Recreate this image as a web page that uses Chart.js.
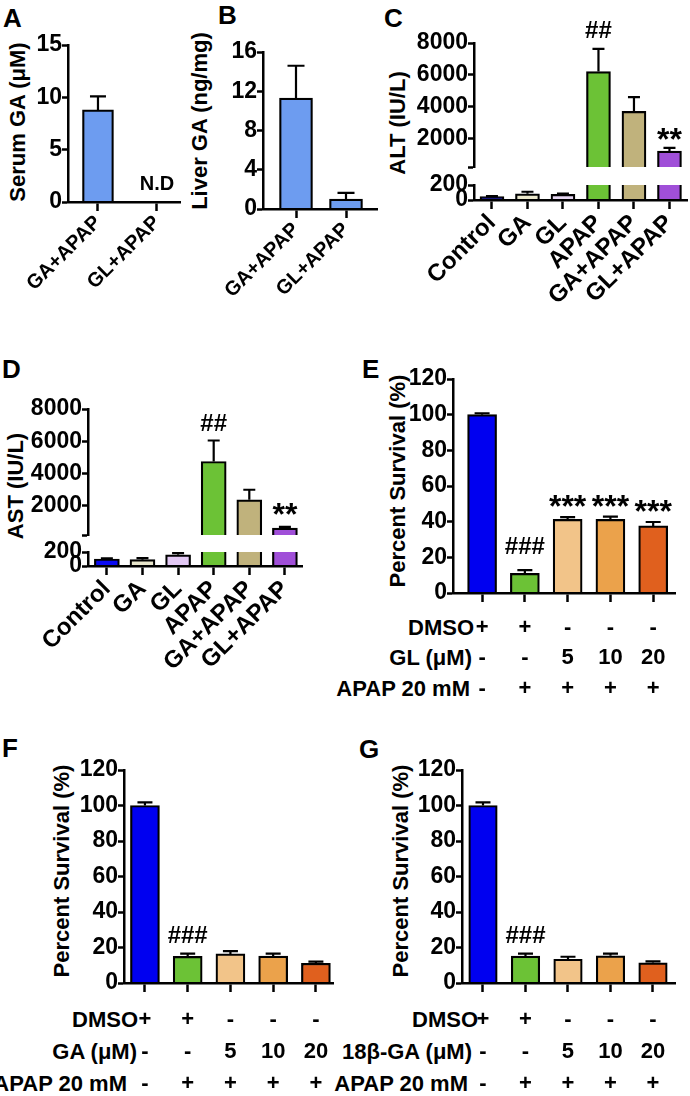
<!DOCTYPE html>
<html><head><meta charset="utf-8">
<script src="https://cdn.jsdelivr.net/npm/chart.js@4/dist/chart.umd.min.js"></script>
<style>
body{margin:0;background:#fff;}
#fig{position:relative;width:690px;height:1096px;overflow:hidden;font-family:"Liberation Sans",Arial,Helvetica,sans-serif;font-weight:bold;color:#000;background:#fff}
#fig canvas{position:absolute}
.lab{position:absolute;font-size:26px;line-height:26px;font-weight:bold}
.yt{position:absolute;white-space:nowrap;font-size:22px;line-height:22px;font-weight:bold;transform:translate(-50%,-50%) rotate(-90deg)}
.rh{position:absolute;white-space:nowrap;font-size:22px;line-height:22px;font-weight:bold;transform:translate(-100%,-50%)}
</style></head>
<body>
<div id="fig">
  <div class="lab" style="left:3px;top:5px">A</div>
  <div class="lab" style="left:218px;top:2px">B</div>
  <div class="lab" style="left:384px;top:5px">C</div>
  <div class="lab" style="left:2px;top:356px">D</div>
  <div class="lab" style="left:362px;top:356px">E</div>
  <div class="lab" style="left:2px;top:735px">F</div>
  <div class="lab" style="left:359px;top:736px">G</div>

  <div class="yt" style="left:18px;top:122px">Serum GA (μM)</div>
  <div class="yt" style="left:200px;top:121px">Liver GA (ng/mg)</div>
  <div class="yt" style="left:398px;top:123px">ALT (IU/L)</div>
  <div class="yt" style="left:16px;top:486px">AST (IU/L)</div>
  <div class="yt" style="left:398px;top:481px">Percent Survival (%)</div>
  <div class="yt" style="left:62px;top:871px">Percent Survival (%)</div>
  <div class="yt" style="left:401px;top:871px">Percent Survival (%)</div>

  <div class="rh" style="left:474px;top:628px">DMSO</div>
  <div class="rh" style="left:472px;top:658px">GL (μM)</div>
  <div class="rh" style="left:470px;top:689px">APAP 20 mM</div>
  <div class="rh" style="left:138px;top:1020px">DMSO</div>
  <div class="rh" style="left:137px;top:1052px">GA (μM)</div>
  <div class="rh" style="left:127px;top:1084px">APAP 20 mM</div>
  <div class="rh" style="left:478px;top:1020px">DMSO</div>
  <div class="rh" style="left:472px;top:1052px">18β-GA (μM)</div>
  <div class="rh" style="left:468px;top:1084px">APAP 20 mM</div>
</div>
<script>
// ---------------- DATA ----------------
const abCategories = ['GA+APAP', 'GL+APAP'];
const serumGA = [8.8, 0];
const serumGAsem = [1.3, 0];
const serumGAmarks = ['', 'N.D'];
const serumTicks = [0, 5, 10, 15];

const liverGA = [11.3, 1.0];
const liverGAsem = [3.3, 0.65];
const liverTicks = [0, 4, 8, 12, 16];

const enzymeCategories = ['Control', 'GA', 'GL', 'APAP', 'GA+APAP', 'GL+APAP'];
const altValues = [45, 83, 74, 6200, 3700, 1200];
const altSem = [8, 27, 11, 1425, 900, 200];
const altMarks = ['', '', '', '##', '', '**'];
const astValues = [100, 90, 160, 4750, 2375, 625];
const astSem = [8, 22, 25, 1300, 625, 80];
const astMarks = ['', '', '', '##', '', '**'];
const enzymeHighTicks = [200, 2000, 4000, 6000, 8000];
const enzymeLowTicks = [0, 200];

const survivalTicks = [0, 20, 40, 60, 80, 100, 120];
const dmsoRow = ['+', '+', '-', '-', '-'];
const doseRow = ['-', '-', '5', '10', '20'];
const apapRow = ['-', '+', '+', '+', '+'];

const survivalE = [100, 11, 41.3, 41.3, 37.6];
const semE = [0.8, 1.8, 1.3, 1.5, 2.2];
const marksE = ['', '###', '***', '***', '***'];

const survivalF = [100, 15, 16.4, 15.1, 11.1];
const semF = [1.8, 1.5, 1.6, 1.5, 0.9];
const marksF = ['', '###', '', '', ''];

const survivalG = [100, 15.1, 13.4, 15.3, 11.4];
const semG = [1.8, 1.4, 1.4, 1.3, 0.8];
const marksG = ['', '###', '', '', ''];

// ---------------- STYLE ----------------
const FONT = '"Liberation Sans", Arial, Helvetica, sans-serif';
Chart.defaults.font.family = FONT;
Chart.defaults.font.weight = 'bold';
Chart.defaults.color = '#000';
const AX = 2.5;
const TICK = 23;
const abColor = '#6d9cf0';
const altColors = ['#17177a', '#ebe8cc', '#e6d6f2', '#6cc236', '#c0b27c', '#a04fd8'];
const astColors = ['#0a0af2', '#e8e6cc', '#e2c8f4', '#6cc236', '#c0b27c', '#a04fd8'];
const survColors = ['#0000f0', '#6cc236', '#f2c489', '#eba24b', '#e0601e'];

// ---------------- PLUGIN: error bars + marks ----------------
const errAnn = {
  id: 'errAnn',
  afterDatasetsDraw(chart, args, o) {
    if (!o || !o.vals) return;
    const ctx = chart.ctx, xs = chart.scales.x;
    const pick = (val) => o.split != null ? (val > o.split ? chart.scales.yHigh : chart.scales.yLow) : chart.scales.y;
    ctx.save();
    o.vals.forEach((v, i) => {
      const e = o.errs[i] || 0;
      const top = v + e;
      const x = xs.getPixelForValue(i);
      const yTop = pick(top).getPixelForValue(top);
      if (e > 0) {
        const yV = pick(v).getPixelForValue(v);
        ctx.strokeStyle = '#000'; ctx.lineWidth = 2.2; ctx.lineCap = 'butt';
        ctx.beginPath();
        ctx.moveTo(x, yV); ctx.lineTo(x, yTop);
        ctx.moveTo(x - o.cap / 2, yTop); ctx.lineTo(x + o.cap / 2, yTop);
        ctx.stroke();
      }
      const a = o.ann && o.ann[i];
      if (a) {
        const star = a.indexOf('*') >= 0;
        ctx.font = 'bold ' + (star ? o.starSize : o.hashSize) + 'px ' + FONT;
        ctx.fillStyle = '#000'; ctx.textAlign = 'center'; ctx.textBaseline = 'alphabetic';
        ctx.fillText(a, x, star ? yTop + o.starDy : yTop - o.hashGap);
      }
    });
    ctx.restore();
  }
};
Chart.register(errAnn);

// ---------------- HELPERS ----------------
function xAxis(cats, labelFn, min, max, height, tickOpts) {
  return {
    type: 'linear', min: min, max: max, offset: false, position: 'bottom',
    afterBuildTicks: s => { s.ticks = cats.map((_, i) => ({ value: i })); },
    afterFit: s => { s.height = height; },
    grid: { display: true, offset: false, drawOnChartArea: false, drawTicks: true, tickLength: 9, tickWidth: AX, tickColor: '#000', color: '#000' },
    border: { display: true, color: '#000', width: AX, z: 1 },
    ticks: Object.assign({ autoSkip: false, color: '#000', font: { size: 22, weight: 'bold' },
      callback: (v) => labelFn(Math.round(v)) }, tickOpts || {})
  };
}
function yAxis(ticksArr, width, extra, labelFn) {
  return Object.assign({
    type: 'linear', position: 'left', min: ticksArr[0], max: ticksArr[ticksArr.length - 1],
    afterBuildTicks: s => { s.ticks = ticksArr.map(v => ({ value: v })); },
    afterFit: s => { s.width = width; },
    grid: { display: true, drawOnChartArea: false, drawTicks: true, tickLength: 6, tickWidth: AX, tickColor: '#000', color: '#000' },
    border: { display: true, color: '#000', width: AX, z: 1 },
    ticks: { autoSkip: false, padding: 0, color: '#000', font: { size: TICK, weight: 'bold' },
      callback: labelFn || (v => String(v)) }
  }, extra || {});
}
function barSet(vals, colors, thick, extra) {
  return Object.assign({
    data: vals.map((v, i) => ({ x: i, y: v })),
    backgroundColor: colors, borderColor: '#000', borderWidth: 2.2,
    barThickness: thick, grouped: false, borderSkipped: 'start'
  }, extra || {});
}
function mk(left, top, w, h, cfg) {
  const c = document.createElement('canvas');
  c.width = w; c.height = h;
  c.style.left = left + 'px'; c.style.top = top + 'px';
  c.style.width = w + 'px'; c.style.height = h + 'px';
  document.getElementById('fig').appendChild(c);
  cfg.options.responsive = false;
  cfg.options.animation = false;
  cfg.options.devicePixelRatio = 1;
  cfg.options.plugins = Object.assign({ legend: { display: false }, tooltip: { enabled: false } }, cfg.options.plugins);
  return new Chart(c, cfg);
}
function brokenCfg(cats, vals, sem, marks, colors, thick, yWidth, xMin, xMax, xHeight, pad, weights, annOpts) {
  const split = enzymeLowTicks[enzymeLowTicks.length - 1];
  const high = barSet(vals.map(v => v > split ? v : null), colors, thick, { yAxisID: 'yHigh' });
  const low = barSet(vals.map(v => Math.min(v, split)), colors, thick, {
    yAxisID: 'yLow',
    borderWidth: (c) => vals[c.dataIndex] > split ? { left: 2.2, right: 2.2, top: 0, bottom: 0 } : 2.2
  });
  return {
    type: 'bar',
    data: { datasets: [low, high] },
    options: {
      layout: { padding: pad },
      scales: {
        x: xAxis(cats, i => cats[i], xMin, xMax, xHeight,
          { minRotation: 45, maxRotation: 45, padding: 0, font: { size: 24, weight: 'bold' } }),
        yHigh: yAxis(enzymeHighTicks, yWidth, { stack: 'brk', stackWeight: weights[0], weight: 3 }, v => v === split ? '' : String(v)),
        yGap: { type: 'linear', position: 'left', stack: 'brk', stackWeight: weights[1], weight: 2, min: 0, max: 1,
          afterFit: s => { s.width = yWidth; }, ticks: { display: false }, grid: { display: false }, border: { display: false } },
        yLow: yAxis(enzymeLowTicks, yWidth, { stack: 'brk', stackWeight: weights[2], weight: 1 })
      },
      plugins: { errAnn: Object.assign({ vals: vals, errs: sem, ann: marks, split: split }, annOpts) }
    }
  };
}
function survivalCfg(vals, sem, marks, thick, yWidth, xMin, xMax, xHeight, pad, lh, tpad, annOpts) {
  const cats = vals.map((_, i) => i);
  return {
    type: 'bar',
    data: { datasets: [barSet(vals, survColors, thick)] },
    options: {
      layout: { padding: pad },
      scales: {
        x: xAxis(cats, i => [dmsoRow[i], doseRow[i], apapRow[i]], xMin, xMax, xHeight,
          { padding: tpad, maxRotation: 0, minRotation: 0, font: { size: 22, weight: 'bold', lineHeight: lh } }),
        y: yAxis(survivalTicks, yWidth)
      },
      plugins: { errAnn: Object.assign({ vals: vals, errs: sem, ann: marks }, annOpts) }
    }
  };
}

// ---------------- PANEL A ----------------
mk(0, 0, 200, 300, {
  type: 'bar',
  data: { datasets: [barSet(serumGA, abColor, 31)] },
  options: {
    layout: { padding: { left: 0, top: 45, right: 20, bottom: 0 } },
    scales: {
      x: xAxis(abCategories, i => abCategories[i], -0.508, 1.39, 98,
        { minRotation: 45, maxRotation: 45, padding: 0, font: { size: 20, weight: 'bold' } }),
      y: yAxis(serumTicks, 68)
    },
    plugins: { errAnn: { vals: serumGA, errs: serumGAsem, ann: serumGAmarks, cap: 16, hashGap: 12, hashSize: 20, starSize: 32, starDy: 0 } }
  }
});
// ---------------- PANEL B ----------------
mk(185, 0, 205, 300, {
  type: 'bar',
  data: { datasets: [barSet(liverGA, abColor, 33)] },
  options: {
    layout: { padding: { left: 0, top: 52, right: 13, bottom: 0 } },
    scales: {
      x: xAxis(abCategories, i => abCategories[i], -0.66, 1.62, 91,
        { minRotation: 45, maxRotation: 45, padding: 0, font: { size: 20, weight: 'bold' } }),
      y: yAxis(liverTicks, 78)
    },
    plugins: { errAnn: { vals: liverGA, errs: liverGAsem, ann: null, cap: 17 } }
  }
});
// ---------------- PANEL C ----------------
mk(380, 0, 310, 318, brokenCfg(enzymeCategories, altValues, altSem, altMarks, altColors, 24, 94,
  -0.506, 5.5, 118, { left: 0, top: 43, right: 2, bottom: 0 }, [124, 18, 15],
  { cap: 12, hashGap: 11, hashSize: 24, starSize: 32, starDy: 2 }));
// ---------------- PANEL D ----------------
mk(0, 340, 320, 340, brokenCfg(enzymeCategories, astValues, astSem, astMarks, astColors, 25, 88,
  -0.53, 5.48, 114, { left: 0, top: 69, right: 18, bottom: 0 }, [126, 17, 14],
  { cap: 12, hashGap: 10, hashSize: 24, starSize: 32, starDy: -2 }));
// ---------------- PANEL E ----------------
mk(330, 340, 360, 370, survivalCfg(survivalE, semE, marksE, 29, 123, -0.68, 4.51, 117,
  { left: 0, top: 39, right: 15, bottom: 0 }, 1.386, 10.25,
  { cap: 15, hashGap: 16, hashSize: 24, starSize: 32, starDy: 0 }));
// ---------------- PANEL F ----------------
mk(0, 720, 345, 376, survivalCfg(survivalF, semF, marksF, 29, 124, -0.49, 4.4, 113,
  { left: 0, top: 50, right: 12, bottom: 0 }, 1.455, 12,
  { cap: 15, hashGap: 11, hashSize: 24, starSize: 32, starDy: 0 }));
// ---------------- PANEL G ----------------
mk(345, 720, 345, 376, survivalCfg(survivalG, semG, marksG, 28.5, 117, -0.494, 4.518, 113,
  { left: 0, top: 50, right: 15, bottom: 0 }, 1.455, 12,
  { cap: 15, hashGap: 11, hashSize: 24, starSize: 32, starDy: 0 }));
</script>
</body></html>
